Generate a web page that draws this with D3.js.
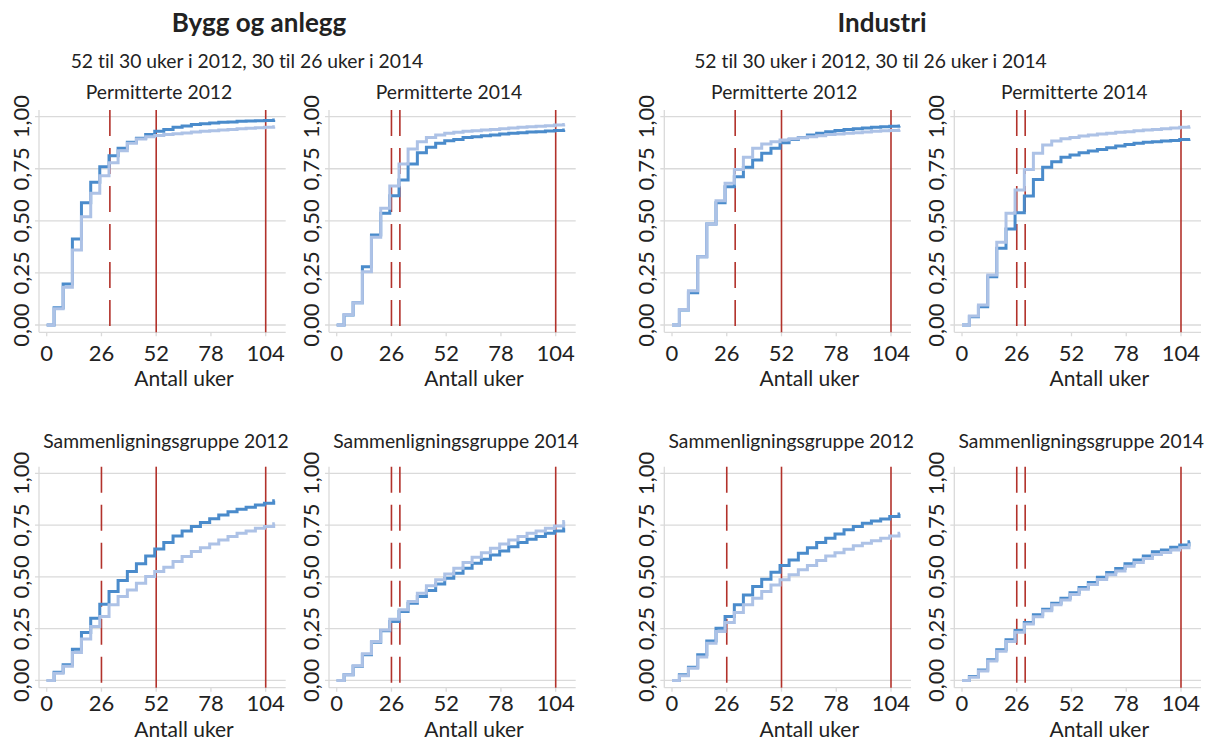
<!DOCTYPE html>
<html>
<head>
<meta charset="utf-8">
<script src="https://cdn.jsdelivr.net/npm/d3@7"></script>
<style>
  body { margin: 0; background: #fff; }
  svg { display: block; font-family: Lato, "Noto Sans", sans-serif; font-variant-ligatures: none; }
</style>
</head>
<body>
<div id="chart"></div>
<script>
// weeks where each monthly step happens (last entry = end of series)
const weeks = [0, 3.5, 7.8, 12.2, 16.5, 20.9, 25.2, 29.6, 33.9, 38.3, 42.6, 47.0, 51.3,
  55.6, 60.0, 64.3, 68.7, 73.0, 77.4, 81.7, 86.1, 90.4, 94.7, 99.1, 103.4, 107.8, 108.3];

const xTicks = [0, 26, 52, 78, 104];
const yTicks = [0, 0.25, 0.5, 0.75, 1];

// Bygg og anlegg
const byggPerm2012Dark = [0, 0.083, 0.197, 0.413, 0.587, 0.685, 0.76, 0.813, 0.848, 0.877, 0.896, 0.915, 0.93,
  0.939, 0.949, 0.955, 0.962, 0.966, 0.97, 0.973, 0.974, 0.978, 0.979, 0.981, 0.982, 0.984];
const byggPerm2012Light = [0, 0.078, 0.181, 0.36, 0.52, 0.632, 0.717, 0.779, 0.836, 0.872, 0.893, 0.904, 0.91,
  0.915, 0.918, 0.922, 0.926, 0.93, 0.933, 0.936, 0.939, 0.942, 0.944, 0.947, 0.949, 0.952];
const byggPerm2014Dark = [0, 0.048, 0.107, 0.28, 0.432, 0.536, 0.62, 0.696, 0.773, 0.827, 0.853, 0.872, 0.885,
  0.891, 0.9, 0.904, 0.909, 0.912, 0.917, 0.92, 0.923, 0.926, 0.928, 0.931, 0.934, 0.936];
const byggPerm2014Light = [0, 0.05, 0.107, 0.256, 0.421, 0.56, 0.667, 0.773, 0.845, 0.88, 0.9, 0.912, 0.92,
  0.925, 0.93, 0.933, 0.936, 0.939, 0.942, 0.946, 0.949, 0.952, 0.954, 0.957, 0.96, 0.963];
const byggSam2012Dark = [0, 0.04, 0.076, 0.151, 0.232, 0.3, 0.368, 0.429, 0.482, 0.526, 0.563, 0.601, 0.635,
  0.666, 0.698, 0.722, 0.743, 0.762, 0.781, 0.799, 0.814, 0.826, 0.836, 0.847, 0.855, 0.868];
const byggSam2012Light = [0, 0.035, 0.068, 0.135, 0.2, 0.26, 0.309, 0.365, 0.405, 0.437, 0.469, 0.502, 0.526,
  0.547, 0.574, 0.598, 0.622, 0.641, 0.659, 0.678, 0.695, 0.711, 0.722, 0.735, 0.743, 0.756];
const byggSam2014Dark = [0, 0.027, 0.068, 0.124, 0.185, 0.24, 0.285, 0.333, 0.373, 0.405, 0.434, 0.466, 0.494,
  0.518, 0.542, 0.566, 0.585, 0.606, 0.625, 0.646, 0.666, 0.682, 0.695, 0.711, 0.722, 0.735];
const byggSam2014Light = [0, 0.027, 0.071, 0.129, 0.188, 0.244, 0.296, 0.341, 0.381, 0.421, 0.457, 0.486, 0.514,
  0.542, 0.569, 0.595, 0.617, 0.638, 0.659, 0.678, 0.695, 0.711, 0.722, 0.735, 0.746, 0.767];

// Industri
const indPerm2012Dark = [0, 0.072, 0.155, 0.328, 0.485, 0.587, 0.664, 0.712, 0.757, 0.792, 0.824, 0.848, 0.875,
  0.891, 0.9, 0.912, 0.92, 0.928, 0.934, 0.939, 0.942, 0.946, 0.949, 0.952, 0.954, 0.955];
const indPerm2012Light = [0, 0.075, 0.165, 0.328, 0.485, 0.597, 0.68, 0.747, 0.805, 0.848, 0.869, 0.88, 0.888,
  0.894, 0.899, 0.904, 0.909, 0.914, 0.917, 0.92, 0.923, 0.926, 0.93, 0.933, 0.934, 0.936];
const indPerm2014Dark = [0, 0.04, 0.088, 0.232, 0.368, 0.461, 0.539, 0.619, 0.699, 0.757, 0.784, 0.805, 0.816,
  0.827, 0.835, 0.843, 0.851, 0.859, 0.866, 0.872, 0.877, 0.88, 0.883, 0.886, 0.89, 0.891];
const indPerm2014Light = [0, 0.043, 0.096, 0.24, 0.397, 0.536, 0.648, 0.747, 0.824, 0.864, 0.883, 0.894, 0.9,
  0.907, 0.912, 0.917, 0.92, 0.925, 0.928, 0.933, 0.936, 0.939, 0.942, 0.946, 0.949, 0.952];
const indSam2012Dark = [0, 0.027, 0.064, 0.124, 0.191, 0.252, 0.309, 0.365, 0.413, 0.453, 0.489, 0.523, 0.555,
  0.582, 0.614, 0.641, 0.666, 0.686, 0.707, 0.727, 0.743, 0.759, 0.77, 0.78, 0.791, 0.804];
const indSam2012Light = [0, 0.023, 0.059, 0.113, 0.18, 0.236, 0.28, 0.328, 0.365, 0.397, 0.429, 0.461, 0.486,
  0.51, 0.534, 0.555, 0.579, 0.601, 0.617, 0.633, 0.65, 0.662, 0.675, 0.686, 0.698, 0.711];
const indSam2014Dark = [0, 0.019, 0.051, 0.1, 0.148, 0.196, 0.241, 0.28, 0.317, 0.344, 0.373, 0.397, 0.424,
  0.449, 0.473, 0.498, 0.521, 0.54, 0.563, 0.582, 0.601, 0.621, 0.63, 0.643, 0.654, 0.67];
const indSam2014Light = [0, 0.016, 0.046, 0.094, 0.141, 0.188, 0.233, 0.272, 0.308, 0.336, 0.365, 0.389, 0.415,
  0.44, 0.463, 0.487, 0.51, 0.529, 0.551, 0.57, 0.589, 0.608, 0.618, 0.63, 0.641, 0.655];

const groups = [
  { title: "Bygg og anlegg", sub: "52 til 30 uker i 2012, 30 til 26 uker i 2014", titleX: 259, subX: 247 },
  { title: "Industri", sub: "52 til 30 uker i 2012, 30 til 26 uker i 2014", titleX: 882, subX: 870.5 },
];

const panels = [
  { col: 0, row: 0, title: "Permitterte 2012", dark: byggPerm2012Dark, light: byggPerm2012Light, dashed: [30], solid: [52, 104] },
  { col: 1, row: 0, title: "Permitterte 2014", dark: byggPerm2014Dark, light: byggPerm2014Light, dashed: [26, 30], solid: [104] },
  { col: 0, row: 1, title: "Sammenligningsgruppe 2012", dark: byggSam2012Dark, light: byggSam2012Light, dashed: [26], solid: [52, 104] },
  { col: 1, row: 1, title: "Sammenligningsgruppe 2014", dark: byggSam2014Dark, light: byggSam2014Light, dashed: [26, 30], solid: [104] },
  { col: 2, row: 0, title: "Permitterte 2012", dark: indPerm2012Dark, light: indPerm2012Light, dashed: [30], solid: [52, 104] },
  { col: 3, row: 0, title: "Permitterte 2014", dark: indPerm2014Dark, light: indPerm2014Light, dashed: [26, 30], solid: [104] },
  { col: 2, row: 1, title: "Sammenligningsgruppe 2012", dark: indSam2012Dark, light: indSam2012Light, dashed: [26], solid: [52, 104] },
  { col: 3, row: 1, title: "Sammenligningsgruppe 2014", dark: indSam2014Dark, light: indSam2014Light, dashed: [26, 30], solid: [104] },
];

const width = 1210;
const height = 740;
const colLeft = [39, 329, 664.3, 954.3];
const plotW = 246.7;
const rows = [
  { top: 110, h: 222.3, titleDy: -11, tickDy: 28.5, labelDy: 53.5, titleDx: 120 },
  { top: 466.7, h: 221, titleDy: -19, tickDy: 23, labelDy: 49, titleDx: 127 },
];

const darkBlue = "#4a8bcb";
const lightBlue = "#adc2e6";
const red = "#b2322b";
const gridColor = "#dadada";
const textColor = "#222";

const svg = d3.select("#chart").append("svg")
  .attr("width", width)
  .attr("height", height);

groups.forEach((g) => {
  svg.append("text")
    .attr("x", g.titleX).attr("y", 31.5)
    .attr("text-anchor", "middle")
    .attr("font-size", 26).attr("font-weight", 700)
    .attr("fill", textColor)
    .text(g.title);
  svg.append("text")
    .attr("x", g.subX).attr("y", 67.5)
    .attr("text-anchor", "middle")
    .attr("font-size", 19.3)
    .attr("fill", textColor)
    .text(g.sub);
});

panels.forEach((p) => {
  const r = rows[p.row];
  const left = colLeft[p.col];
  const bottom = r.top + r.h;

  const x = d3.scaleLinear().domain([-3.66, 113.5]).range([left, left + plotW]);
  const y = d3.scaleLinear().domain([-0.035, 1.032]).range([bottom, r.top]);

  const g = svg.append("g");

  // horizontal grid + y ticks
  g.selectAll(".grid")
    .data(yTicks)
    .enter()
    .append("line")
    .attr("x1", left - 4).attr("x2", left + plotW)
    .attr("y1", (d) => y(d)).attr("y2", (d) => y(d))
    .attr("stroke", gridColor).attr("stroke-width", 1.3);

  // axis lines
  g.append("line")
    .attr("x1", left).attr("x2", left)
    .attr("y1", r.top).attr("y2", bottom)
    .attr("stroke", gridColor).attr("stroke-width", 1.3);
  g.append("line")
    .attr("x1", left).attr("x2", left + plotW)
    .attr("y1", bottom).attr("y2", bottom)
    .attr("stroke", gridColor).attr("stroke-width", 1.3);

  // x ticks
  g.selectAll(".xtick")
    .data(xTicks)
    .enter()
    .append("line")
    .attr("x1", (d) => x(d)).attr("x2", (d) => x(d))
    .attr("y1", bottom).attr("y2", bottom + 4)
    .attr("stroke", gridColor).attr("stroke-width", 1.3);

  g.selectAll(".xlab")
    .data(xTicks)
    .enter()
    .append("text")
    .attr("x", (d) => x(d))
    .attr("y", bottom + r.tickDy)
    .attr("text-anchor", "middle")
    .attr("font-size", 22)
    .attr("fill", textColor)
    .text((d) => d);

  g.selectAll(".ylab")
    .data(yTicks)
    .enter()
    .append("text")
    .attr("transform", (d) => `translate(${left - 10},${y(d)}) rotate(-90)`)
    .attr("text-anchor", "middle")
    .attr("font-size", 22)
    .attr("fill", textColor)
    .text((d) => d3.format(".2f")(d).replace(".", ","));

  g.append("text")
    .attr("x", left + 145)
    .attr("y", bottom + r.labelDy)
    .attr("text-anchor", "middle")
    .attr("font-size", 21)
    .attr("fill", textColor)
    .text("Antall uker");

  g.append("text")
    .attr("x", left + r.titleDx)
    .attr("y", r.top + r.titleDy)
    .attr("text-anchor", "middle")
    .attr("font-size", 19.3)
    .attr("fill", textColor)
    .text(p.title);

  // reference lines
  g.selectAll(".solid")
    .data(p.solid)
    .enter()
    .append("line")
    .attr("x1", (d) => x(d)).attr("x2", (d) => x(d))
    .attr("y1", r.top).attr("y2", bottom)
    .attr("stroke", red).attr("stroke-width", 1.6);

  g.selectAll(".dashed")
    .data(p.dashed)
    .enter()
    .append("line")
    .attr("x1", (d) => x(d)).attr("x2", (d) => x(d))
    .attr("y1", r.top).attr("y2", bottom)
    .attr("stroke", red).attr("stroke-width", 1.6)
    .attr("stroke-dasharray", "26,12");

  const line = d3.line()
    .x((d) => x(d[0]))
    .y((d) => y(d[1]))
    .curve(d3.curveStepAfter);

  const toPts = (vals) => weeks.map((w, i) => [w, vals[Math.min(i, vals.length - 1)]]);

  g.append("path")
    .datum(toPts(p.dark))
    .attr("fill", "none")
    .attr("stroke", darkBlue)
    .attr("stroke-width", 3)
    .attr("d", line);

  g.append("path")
    .datum(toPts(p.light))
    .attr("fill", "none")
    .attr("stroke", lightBlue)
    .attr("stroke-width", 3)
    .attr("d", line);
});
</script>
</body>
</html>
